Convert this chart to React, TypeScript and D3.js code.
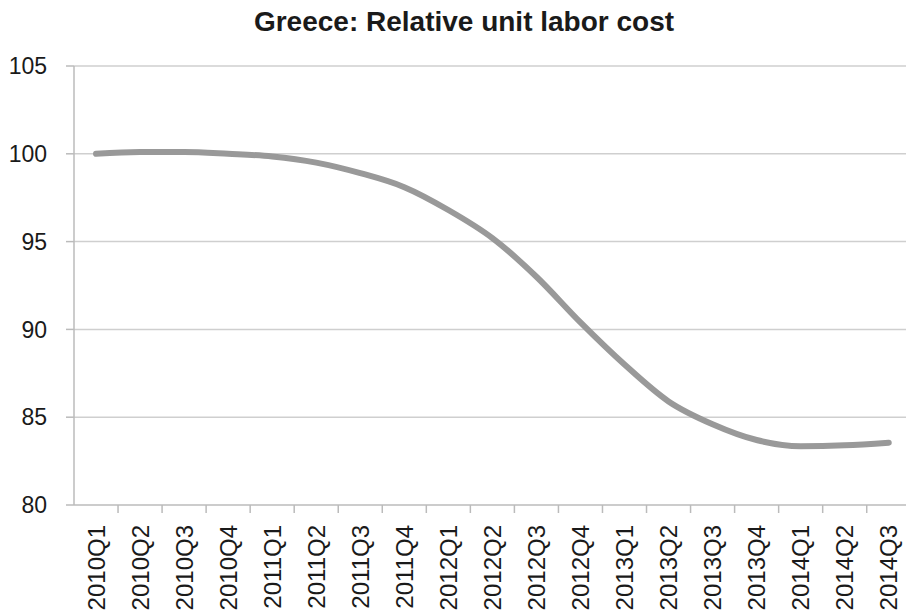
import React from "react";
import * as d3 from "d3";

const categories = [
  "2010Q1", "2010Q2", "2010Q3", "2010Q4",
  "2011Q1", "2011Q2", "2011Q3", "2011Q4",
  "2012Q1", "2012Q2", "2012Q3", "2012Q4",
  "2013Q1", "2013Q2", "2013Q3", "2013Q4",
  "2014Q1", "2014Q2", "2014Q3",
];
const values = [
  100.0, 100.1, 100.1, 100.0,
  99.85, 99.5, 98.9, 98.1,
  96.8, 95.2, 93.0, 90.4,
  88.0, 85.9, 84.6, 83.7,
  83.35, 83.4, 83.55,
];
const yTicks = [80, 85, 90, 95, 100, 105];
const title = "Greece: Relative unit labor cost";

export default function App() {
  const W = 906, H = 616;
  const left = 74, top = 66, bottom = 505;
  const band = 44.04;
  const x = d3.scaleBand<string>().domain(categories).range([left, left + band * categories.length]).padding(0);
  const y = d3.scaleLinear().domain([80, 105]).range([bottom, top]);
  const line = d3.line<number>()
    .x((_, i) => (x(categories[i]) as number) + x.bandwidth() / 2)
    .y((d) => y(d))
    .curve(d3.curveMonotoneX);
  const font = "'Liberation Sans', Arial, sans-serif";
  return (
    <svg width={W} height={H} style={{ position: "absolute", left: 0, top: 0, background: "#fff" }}>
      <text x={464} y={31} textAnchor="middle" fontFamily={font} fontWeight="bold" fontSize={28} fill="#1a1a1a">{title}</text>
      {yTicks.map((t) => (
        <g key={t}>
          {t > 80 && <line x1={left} x2={W} y1={y(t)} y2={y(t)} stroke="#cfcfcf" strokeWidth={1.5} />}
          <line x1={left - 8} x2={left} y1={y(t)} y2={y(t)} stroke="#bbb" strokeWidth={1.5} />
          <text x={47} y={y(t)} dy="0.36em" textAnchor="end" fontFamily={font} fontSize={23} fill="#1a1a1a">{t}</text>
        </g>
      ))}
      <line x1={left} x2={left} y1={top} y2={bottom} stroke="#bbb" strokeWidth={1.5} />
      <line x1={left} x2={W} y1={bottom} y2={bottom} stroke="#bbb" strokeWidth={1.5} />
      {categories.map((c, i) => (
        <g key={c}>
          <line x1={(x(c) as number) + band} x2={(x(c) as number) + band} y1={bottom} y2={bottom + 8} stroke="#bbb" strokeWidth={1.5} />
          <text
            transform={`translate(${(x(c) as number) + band / 2},${bottom + 20}) rotate(-90)`}
            textAnchor="end"
            dy="0.36em"
            fontFamily={font}
            fontSize={24}
            fill="#1a1a1a"
          >{c}</text>
        </g>
      ))}
      <path d={line(values) || ""} fill="none" stroke="#999" strokeWidth={6} strokeLinecap="round" />
    </svg>
  );
}
